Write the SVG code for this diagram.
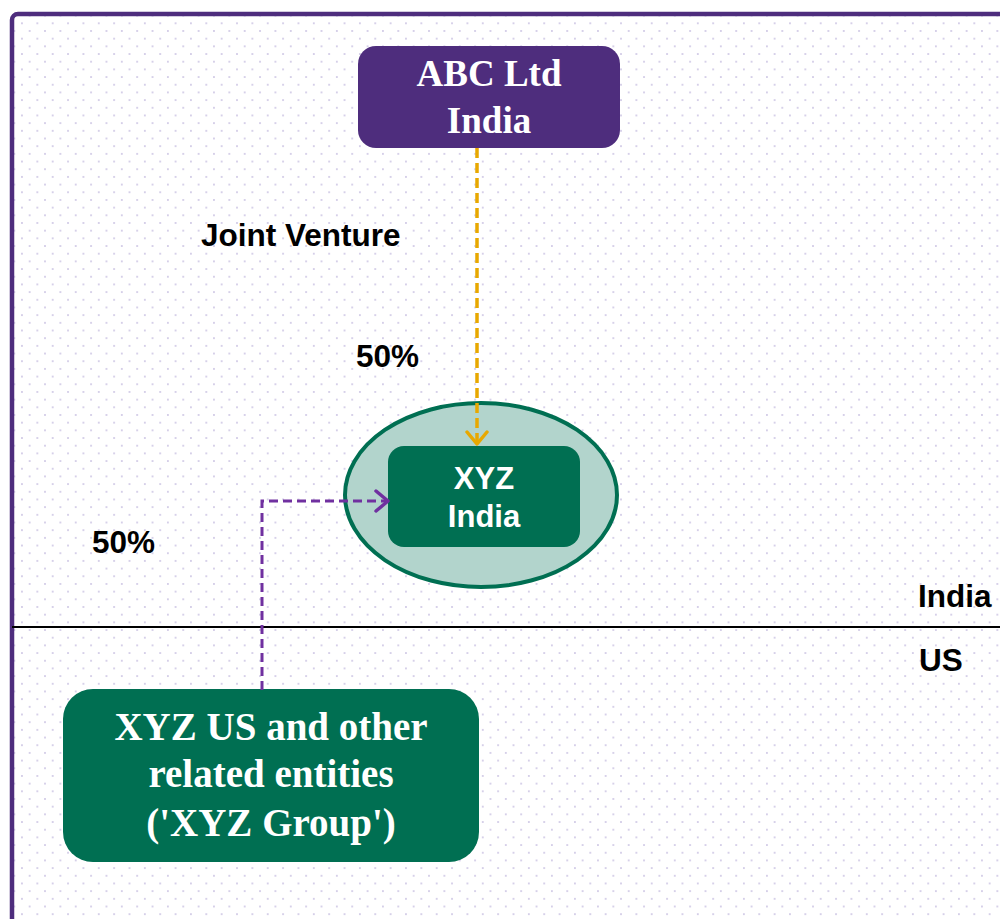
<svg xmlns="http://www.w3.org/2000/svg" width="1000" height="919" viewBox="0 0 1000 919">
<style>
.lbl{font-family:"Liberation Sans",Arial,sans-serif;font-weight:bold;font-size:31.5px;fill:#000}
.serif{font-family:"Liberation Serif","Times New Roman",serif;font-weight:bold;fill:#fff;text-anchor:middle}
.sans{font-family:"Liberation Sans",Arial,sans-serif;font-weight:bold;fill:#fff;text-anchor:middle}
</style>
<defs>
<pattern id="dots" x="22" y="23.3" width="15.36" height="15.36" patternUnits="userSpaceOnUse">
<circle cx="0" cy="0" r="1" fill="#cbc3e3"/>
<circle cx="15.36" cy="0" r="1" fill="#cbc3e3"/>
<circle cx="0" cy="15.36" r="1" fill="#cbc3e3"/>
<circle cx="15.36" cy="15.36" r="1" fill="#cbc3e3"/>
<circle cx="7.68" cy="7.68" r="1" fill="#cbc3e3"/>
</pattern>
<marker id="arrY" markerWidth="20" markerHeight="24" refX="14" refY="12" orient="auto" markerUnits="userSpaceOnUse">
<path d="M2,2 L14,12 L2,22" fill="none" stroke="#e8a800" stroke-width="3.5" stroke-linecap="round" stroke-linejoin="round"/>
</marker>
<marker id="arrP" markerWidth="20" markerHeight="24" refX="14" refY="12" orient="auto" markerUnits="userSpaceOnUse">
<path d="M2,2 L14,12 L2,22" fill="none" stroke="#7030a0" stroke-width="3.5" stroke-linecap="round" stroke-linejoin="round"/>
</marker>
</defs>
<rect width="1000" height="919" fill="#fff"/>
<rect x="12" y="14" width="1000" height="920" rx="6" fill="url(#dots)" stroke="#4e2d7d" stroke-width="4.5"/>
<line x1="12" y1="627" x2="1000" y2="627" stroke="#000" stroke-width="2"/>
<text class="lbl" x="201" y="246">Joint Venture</text>
<text class="lbl" x="356" y="367">50%</text>
<text class="lbl" x="92" y="553">50%</text>
<text class="lbl" x="918" y="607">India</text>
<text class="lbl" x="919" y="671">US</text>
<g id="abc">
<rect x="358" y="46" width="262" height="102" rx="18" fill="#4e2d7d"/>
<text class="serif" x="489" y="86" font-size="37">ABC Ltd</text>
<text class="serif" x="489" y="133" font-size="37">India</text>
</g>
<g id="xyz-india">
<ellipse cx="481" cy="495" rx="136" ry="92" fill="#b2d4cc" stroke="#006f52" stroke-width="4"/>
<rect x="388" y="446" width="192" height="101" rx="16" fill="#006f52"/>
<text class="sans" x="484" y="489" font-size="31">XYZ</text>
<text class="sans" x="484" y="527" font-size="31">India</text>
</g>
<g id="xyz-group">
<rect x="63" y="689" width="416" height="173" rx="30" fill="#006f52"/>
<text class="serif" x="271" y="740" font-size="39">XYZ US and other</text>
<text class="serif" x="271" y="787" font-size="39">related entities</text>
<text class="serif" x="271" y="836" font-size="39">('XYZ Group')</text>
</g>
<g id="connectors">
<line x1="477" y1="148" x2="477" y2="444" stroke="#e8a800" stroke-width="3.5" stroke-dasharray="10,5" marker-end="url(#arrY)"/>
<polyline points="262,690 262,501 388,501" fill="none" stroke="#7030a0" stroke-width="3" stroke-dasharray="9,5" marker-end="url(#arrP)"/>
</g>
</svg>
